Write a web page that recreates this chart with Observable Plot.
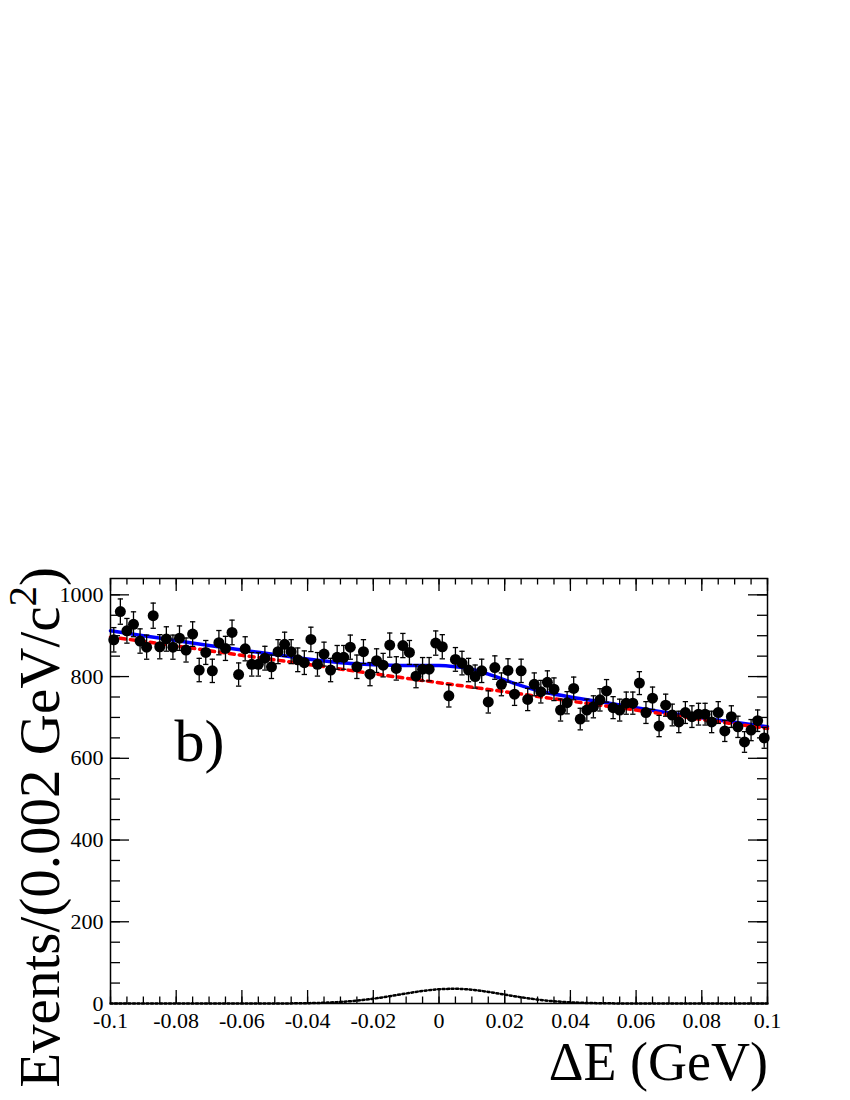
<!DOCTYPE html>
<html><head><meta charset="utf-8">
<script src="https://cdn.jsdelivr.net/npm/d3@7"></script>
<script src="https://cdn.jsdelivr.net/npm/@observablehq/plot@0.6"></script>
<style>body{margin:0;background:#fff} svg{display:block} svg text{font-family:"Liberation Serif","Times New Roman",Times,"DejaVu Serif",serif;}</style>
</head><body><div id="chart"></div>
<script>
// Binning: 100 bins of 0.002 GeV from -0.1 to 0.1
const binLow = -0.1;
const binWidth = 0.002;
const counts = [890,959,912,928,887,872,949,873,892,872,
  894,865,904,816,859,814,883,869,908,805,
  868,830,830,845,824,861,879,861,841,834,
  891,830,855,816,847,847,872,824,861,806,
  839,828,877,820,876,859,801,818,818,882,
  873,753,842,833,816,800,814,738,822,781,
  815,757,814,744,781,763,786,769,718,736,
  771,696,718,726,743,765,724,718,735,735,
  784,712,747,679,730,706,689,712,702,708,
  708,689,712,667,702,677,640,669,692,650];

// Fit curves
const totalX = [-0.1,-0.09,-0.08,-0.07,-0.06,-0.05,-0.04,-0.03,-0.02,-0.01,0,0.005,0.01,0.015,0.02,0.025,0.03,0.04,0.05,0.06,0.07,0.08,0.09,0.1];
const totalY = [912,900,888,876,865,854,843,834,829,827,827,824,818,806,792,778,766,750,737,724,711,699,688,677];
const bkgX = [-0.1,-0.08,-0.06,-0.04,-0.02,0,0.02,0.04,0.06,0.08,0.1];
const bkgY = [897,875,852,830,807,785,763,740,718,695,673];
const sigX = [-0.1,-0.05,-0.045,-0.04,-0.035,-0.03,-0.025,-0.02,-0.015,-0.01,-0.005,0,0.005,0.01,0.015,0.02,0.025,0.03,0.035,0.04,0.045,0.05,0.055,0.06,0.1];
const sigY = [0,0.1,0.3,0.8,1.9,3.8,7.0,11.7,17.8,24.5,30.7,34.9,36.0,33.6,28.4,21.8,15.2,9.6,5.5,2.9,1.4,0.6,0.2,0.1,0];

// Axis ticks
const xTicks = [-0.1,-0.08,-0.06,-0.04,-0.02,0,0.02,0.04,0.06,0.08,0.1];
const xTickLabels = ["-0.1","-0.08","-0.06","-0.04","-0.02","0","0.02","0.04","0.06","0.08","0.1"];
const xMinorTicks = d3.range(0, 41).map(i => -0.1 + i * 0.005);
const yTicks = [0,200,400,600,800,1000];
const yTickLabels = ["0","200","400","600","800","1000"];
const yMinorTicks = d3.range(0, 21).map(i => i * 50);

const data = counts.map((n, i) => ({x: binLow + binWidth * (i + 0.5), n, lo: n - Math.sqrt(n), hi: n + Math.sqrt(n)}));
const total = totalX.map((x, i) => ({x, y: totalY[i]}));
const bkg = bkgX.map((x, i) => ({x, y: bkgY[i]}));
const sig = sigX.map((x, i) => ({x, y: sigY[i]}));

const FONT = '"Liberation Serif","Times New Roman",Times,"DejaVu Serif",serif';
const mL = 110, mR = 83, mT = 578, mB = 97, Wd = 850, Ht = 1100;
const H = Ht - mT - mB, W = Wd - mL - mR;

const capSymbol = {draw(ctx, size) { const w = Math.sqrt(size) / 2; ctx.moveTo(-w, 0); ctx.lineTo(w, 0); }};

const plot = Plot.plot({
  width: Wd, height: Ht,
  marginLeft: mL, marginRight: mR, marginTop: mT, marginBottom: mB,
  style: {fontFamily: FONT, background: "white", color: "black"},
  x: {domain: [-0.1, 0.1]},
  y: {domain: [0, 1040]},
  marks: [
    Plot.axisX({ticks: xTicks, tickSize: 0, tickPadding: 9, fontSize: 22, label: null,
      tickFormat: d => xTickLabels[xTicks.findIndex(t => Math.abs(t - d) < 1e-9)]}),
    Plot.axisY({ticks: yTicks, tickSize: 0, tickPadding: 7, fontSize: 22, label: null,
      tickFormat: d => yTickLabels[yTicks.findIndex(t => Math.abs(t - d) < 1e-9)]}),
    // inward ticks
    Plot.tickX(xMinorTicks, {x: d => d, insetTop: H - 6.5, stroke: "black", strokeWidth: 1.3}),
    Plot.tickX(xMinorTicks, {x: d => d, insetBottom: H - 6.5, stroke: "black", strokeWidth: 1.3}),
    Plot.tickX(xTicks, {x: d => d, insetTop: H - 13, stroke: "black", strokeWidth: 1.3}),
    Plot.tickX(xTicks, {x: d => d, insetBottom: H - 13, stroke: "black", strokeWidth: 1.3}),
    Plot.tickY(yMinorTicks, {y: d => d, insetRight: W - 10, stroke: "black", strokeWidth: 1.3}),
    Plot.tickY(yMinorTicks, {y: d => d, insetLeft: W - 10, stroke: "black", strokeWidth: 1.3}),
    Plot.tickY(yTicks, {y: d => d, insetRight: W - 19, stroke: "black", strokeWidth: 1.3}),
    Plot.tickY(yTicks, {y: d => d, insetLeft: W - 19, stroke: "black", strokeWidth: 1.3}),
    // fit components
    Plot.line(sig, {x: "x", y: "y", stroke: "black", strokeWidth: 2.5, strokeDasharray: "2,2.5", curve: "monotone-x"}),
    Plot.line(total, {x: "x", y: "y", stroke: "#0000ff", strokeWidth: 3.5, curve: "monotone-x"}),
    Plot.line(bkg, {x: "x", y: "y", stroke: "#ff0000", strokeWidth: 3.5, strokeDasharray: "5,5", curve: "monotone-x"}),
    // data
    Plot.ruleX(data, {x: "x", y1: "lo", y2: "hi", stroke: "black", strokeWidth: 1.3}),
    Plot.dot(data, {x: "x", y: "lo", symbol: capSymbol, r: 3, stroke: "black", strokeWidth: 1.3, fill: "none"}),
    Plot.dot(data, {x: "x", y: "hi", symbol: capSymbol, r: 3, stroke: "black", strokeWidth: 1.3, fill: "none"}),
    Plot.dot(data, {x: "x", y: "n", r: 5.5, fill: "black", stroke: "none"}),
    Plot.text(["b)"], {x: -0.0805, y: 594, text: d => d, textAnchor: "start", lineAnchor: "bottom", fontSize: 60, fontFamily: FONT, fill: "black"}),
    Plot.frame({stroke: "black", strokeWidth: 1.5})
  ]
});

const svg = d3.select(plot);
svg.append("text")
  .attr("x", 768).attr("y", 1080)
  .attr("text-anchor", "end")
  .attr("font-family", FONT)
  .attr("font-size", 54)
  .attr("fill", "black")
  .text("\u0394E (GeV)");

const yt = svg.append("text")
  .attr("transform", "translate(59,567) rotate(-90)")
  .attr("text-anchor", "end")
  .attr("font-family", FONT)
  .attr("font-size", 57)
  .attr("fill", "black");
yt.append("tspan").text("Events/(0.002 GeV/c");
yt.append("tspan").attr("dy", -23).attr("font-size", 41).text("2");
yt.append("tspan").attr("dy", 23).text(")");

document.getElementById("chart").appendChild(plot);
</script>
</body></html>
